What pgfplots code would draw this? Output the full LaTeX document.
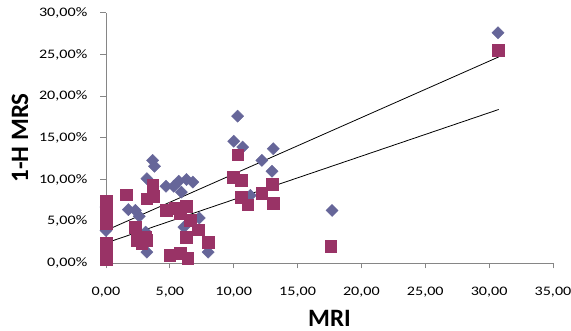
\documentclass[border=0pt]{standalone}
\usepackage{fontspec}
\setmainfont{Carlito}
\newfontfamily\tickfont[FakeStretch=1.24]{Carlito}
\usepackage{pgfplots}
\pgfplotsset{compat=1.18}
\definecolor{dblue}{HTML}{666699}
\definecolor{dmaroon}{HTML}{993366}
\definecolor{axgray}{HTML}{868686}
\begin{document}
\begin{tikzpicture}
\path[use as bounding box] (-106pt,-68pt) rectangle (465pt,263pt);
\begin{axis}[
  at={(0,0)}, anchor=south west,
  scale only axis, width=447pt, height=250.3pt,
  xmin=0, xmax=35, ymin=0, ymax=30,
  axis lines*=left,
  axis line style={axgray, line width=0.8pt},
  tick align=outside, major tick length=5.5pt,
  tick style={axgray, line width=0.8pt},
  xtick={0,5,10,15,20,25,30,35},
  xticklabels={{0,00},{5,00},{10,00},{15,00},{20,00},{25,00},{30,00},{35,00}},
  ytick={0,5,10,15,20,25,30},
  yticklabels={{0,00\%},{5,00\%},{10,00\%},{15,00\%},{20,00\%},{25,00\%},{30,00\%}},
  xticklabel style={font=\tickfont\fontsize{13}{13}\selectfont, anchor=north, inner sep=0pt, yshift=-18.5pt},
  yticklabel style={font=\tickfont\fontsize{13}{13}\selectfont, anchor=east, inner sep=0pt, xshift=-13pt},
  xlabel={MRI},
  ylabel={1-H MRS},
  xlabel style={font=\bfseries\fontsize{25}{25}\selectfont, at={(axis description cs:0.5,-0.2197)}, anchor=center, inner sep=0pt},
  ylabel style={font=\bfseries\fontsize{25}{25}\selectfont, at={(axis description cs:-0.1924,0.5)}, anchor=center, inner sep=0pt},
  clip=false,
]
\addplot[only marks, mark=square*, mark size=4.3pt, mark options={rotate=45, fill=dblue, draw=dblue}]
coordinates {
(0,6.7) (0,3.9) (1.75,6.4) (2.3,6.3) (2.6,5.6) (3.1,3.7) (3.2,10.1) (3.65,12.3) (3.8,11.6) (3.2,1.3)
(4.7,9.2) (5.3,9.2) (5.7,9.8) (6.3,10.0) (6.8,9.7) (5.9,8.5) (6.1,4.3) (7.3,5.4) (8.0,1.3)
(10.0,14.6) (10.3,17.6) (10.7,13.9) (11.3,8.1) (12.2,12.3) (13.0,11.0) (13.1,13.7) (17.7,6.3) (30.7,27.6)
};
\addplot[only marks, mark=square*, mark size=5.8pt, mark options={fill=dmaroon, draw=dmaroon}]
coordinates {
(0,7.4) (0,6.1) (0,4.7) (0,2.4) (0,1.2) (0,0.4) (1.56,8.2) (3.65,9.3) (3.2,7.7) (3.7,8.0)
(2.3,4.3) (2.4,2.7) (2.8,2.3) (3.05,3.1) (3.2,2.7) (4.7,6.3) (5.4,6.6) (5.8,5.9) (6.3,6.8)
(6.6,5.1) (7.2,4.0) (6.3,3.1) (8.0,2.5) (5.0,0.9) (5.8,1.2) (6.4,0.6)
(10.3,13.0) (9.95,10.3) (10.6,9.9) (10.6,7.9) (11.1,7.0) (12.2,8.35) (13.0,9.45) (13.1,7.2)
(17.6,2.0) (30.7,25.5)
};
\addplot[black, line width=0.8pt] coordinates {(0,3.9) (30.75,24.7)};
\addplot[black, line width=0.8pt] coordinates {(0,2.4) (30.75,18.4)};
\end{axis}
\end{tikzpicture}
\end{document}
